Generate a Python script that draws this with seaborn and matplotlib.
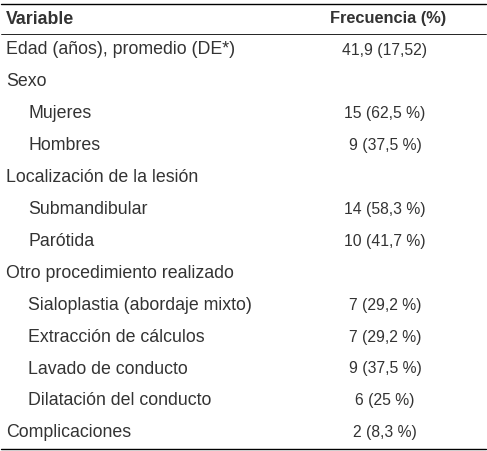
import seaborn as sns
import matplotlib.pyplot as plt

sns.set_style("white")
plt.rcParams['font.family'] = ['Liberation Sans', 'DejaVu Sans']

header = ["Variable", "Frecuencia (%)"]
labels = ["Edad (años), promedio (DE*)", "Sexo", "Mujeres", "Hombres",
          "Localización de la lesión", "Submandibular", "Parótida",
          "Otro procedimiento realizado", "Sialoplastia (abordaje mixto)",
          "Extracción de cálculos", "Lavado de conducto", "Dilatación del conducto",
          "Complicaciones"]
values = ["41,9 (17,52)", "", "15 (62,5 %)", "9 (37,5 %)", "", "14 (58,3 %)",
          "10 (41,7 %)", "", "7 (29,2 %)", "7 (29,2 %)", "9 (37,5 %)", "6 (25 %)",
          "2 (8,3 %)"]
indented = [False, False, True, True, False, True, True, False, True, True, True, True, False]

W, H = 487, 451
fig = plt.figure(figsize=(W / 100, H / 100), dpi=100)
ax = fig.add_axes([0, 0, 1, 1])
ax.set_xlim(0, W)
ax.set_ylim(H, 0)
ax.axis("off")

col = "#333333"
fs_lab, fs_val = 12.8, 11.3
ax.plot([1, W - 1], [4, 4], color="black", lw=1)
ax.plot([1, W - 1], [34, 34], color="black", lw=0.6)
ax.plot([1, W - 1], [449, 449], color="black", lw=1)

ax.text(6, 19, header[0], fontsize=fs_lab, fontweight="bold", color=col, va="center")
ax.text(388, 19, header[1], fontsize=11.8, fontweight="bold", color=col, va="center", ha="center")

for i, (lab, val, ind) in enumerate(zip(labels, values, indented)):
    y = 50 + i * 31.9
    ax.text(28 if ind else 6, y, lab, fontsize=fs_lab, color=col, va="center")
    ax.text(385, y, val, fontsize=fs_val, color=col, va="center", ha="center")

fig.savefig("out.png", dpi=100)
